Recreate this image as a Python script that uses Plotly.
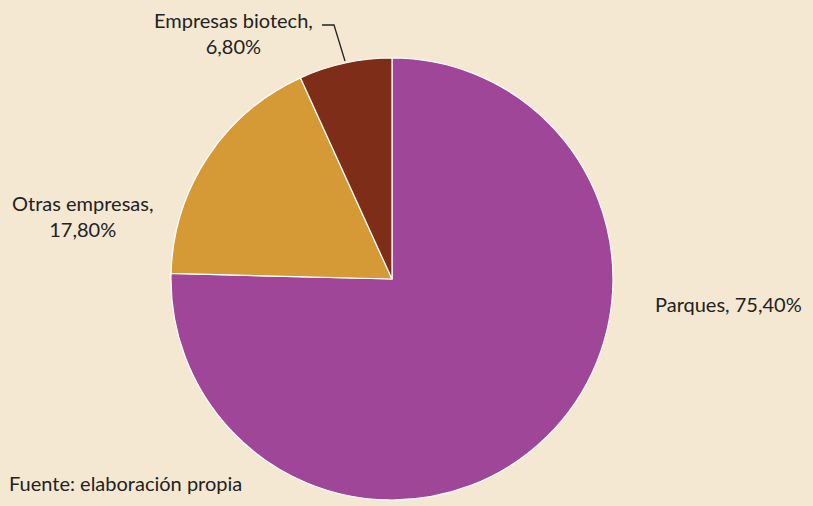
import plotly.graph_objects as go

labels = ["Parques", "Otras empresas", "Empresas biotech"]
values = [75.40, 17.80, 6.80]
colors = ["#A04698", "#D59A36", "#7E2E18"]

W, H = 813, 506
cx, cy, r = 392, 279, 221

def px(x):
    return x / W

def py(y):
    return 1 - y / H

fig = go.Figure(go.Pie(
    labels=labels, values=values, sort=False, direction="clockwise", rotation=0,
    marker=dict(colors=colors, line=dict(color="#FFFFFF", width=1.2)),
    textinfo="none", hoverinfo="label+percent", showlegend=False,
    domain=dict(x=[px(cx - r), px(cx + r)], y=[py(cy + r), py(cy - r)]),
))

font = dict(family="Lato, 'Open Sans', sans-serif", size=20, color="#222222")
annots = [
    ("Empresas biotech,<br>6,80%", 233, 33),
    ("Otras empresas,<br>17,80%", 82, 216),
    ("Parques, 75,40%", 728, 304),
]
for t, x, y in annots:
    fig.add_annotation(text=t, x=px(x), y=py(y), xref="paper", yref="paper",
                       xanchor="center", yanchor="middle",
                       showarrow=False, font=font, align="center")
fig.add_annotation(text="Fuente: elaboración propia", x=px(7), y=py(483), xref="paper", yref="paper",
                   xanchor="left", yanchor="middle", showarrow=False, font=font)

fig.add_shape(type="path", xref="paper", yref="paper",
              path=f"M {px(322)} {py(25)} L {px(334)} {py(25)} L {px(345)} {py(61)}",
              line=dict(color="#222222", width=1.3))

fig.update_layout(width=W, height=H, margin=dict(l=0, r=0, t=0, b=0),
                  paper_bgcolor="#F5E8D2", plot_bgcolor="#F5E8D2")
fig.write_html("out.html", config={"displayModeBar": False},
               post_script="document.body.style.margin='0';document.body.style.background='#F5E8D2';")
